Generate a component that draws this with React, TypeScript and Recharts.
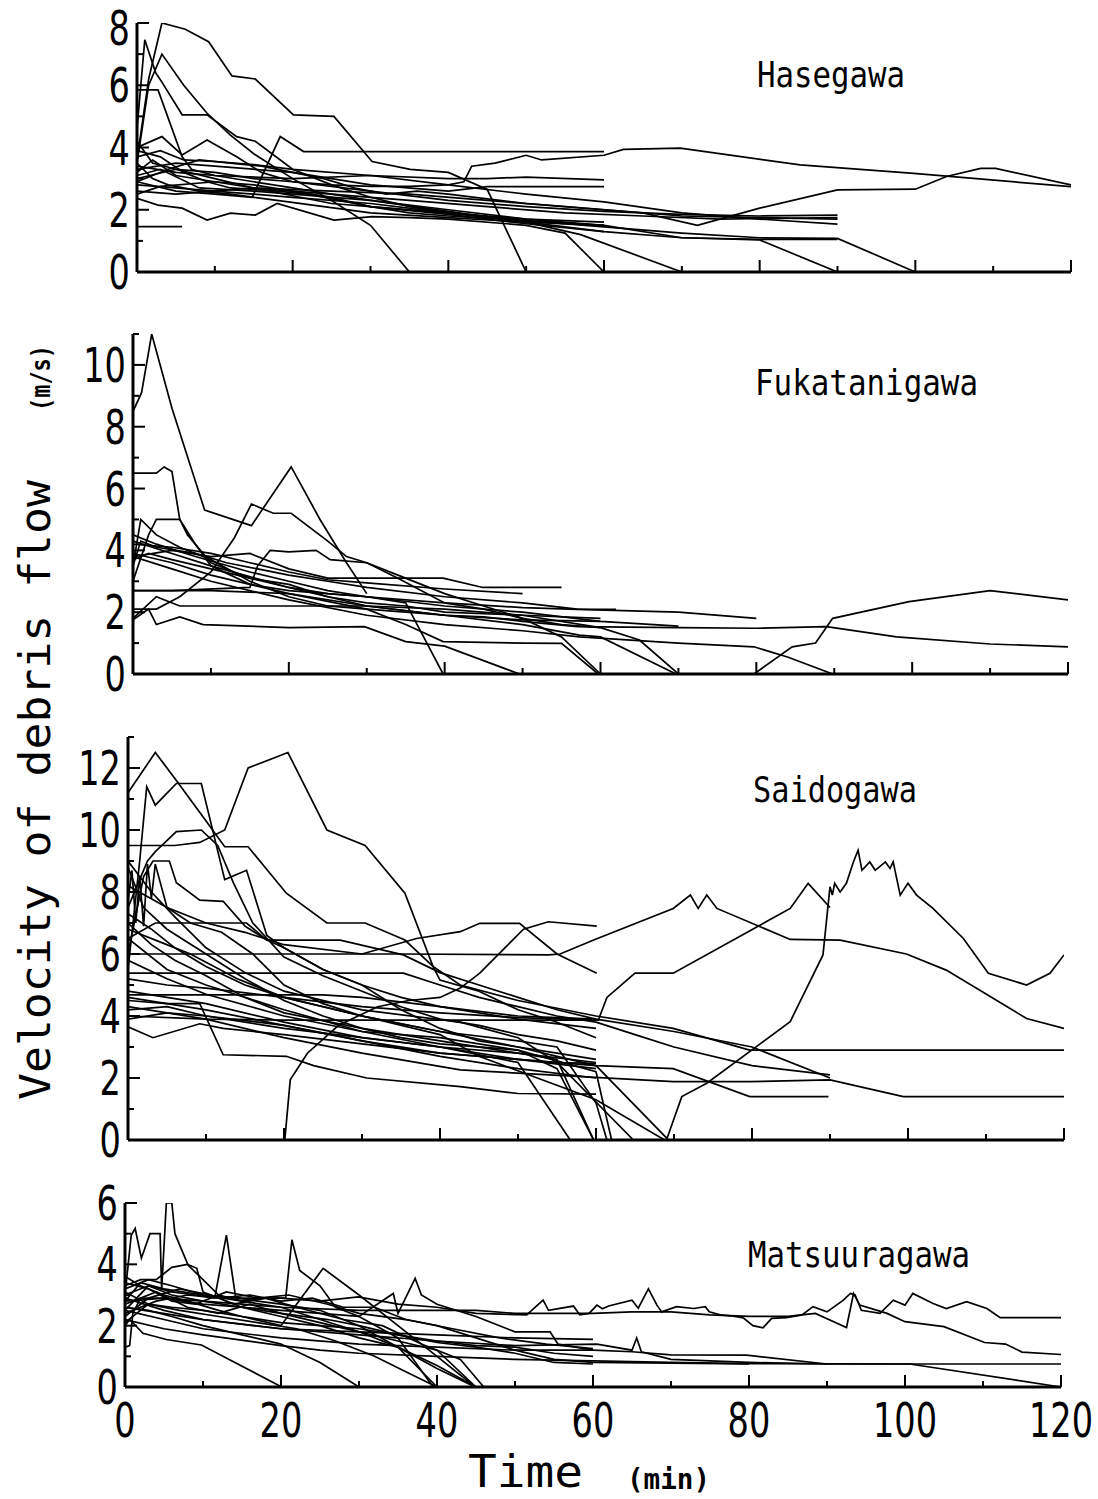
import { LineChart, Line, XAxis, YAxis } from 'recharts';

// each series: list of [time (min), velocity (m/s)] pairs
const hasegawa: number[][][] = [
  [[0,3.6],[1.5,6.2],[3.2,8],[6.2,7.8],[9.2,7.4],[12.2,6.3],[15.2,6.2],[20.1,5.05],[25.3,5],[30.2,3.55],[35.1,3.3],[40,3.2],[45,2.65],[50,0]],
  [[0,3],[5,3.3],[10,3.2],[15,3],[20,2.9],[25,2.8],[30,2.75],[35,2.75],[40,2.8],[42,2.9],[43,3.4],[46,3.5],[50,3.75],[52,3.6],[60,3.75],[62.5,3.94],[69.8,3.98],[85.2,3.44],[99.8,3.17],[120,2.74]],
  [[0,4.6],[1,7.46],[2.4,6.4],[3.2,6.1],[5.8,5.05],[9,5.05],[12.8,4.35],[15.2,4.2],[20,3.3],[25,2.8],[30,2.4],[35,2.1],[40,1.9],[50,1.65],[60,1.45],[70,1.25],[80,1.1],[90,1.08],[100,0]],
  [[0,3.5],[1.5,6],[3.2,7],[6,6],[9,5.1],[12,4.4],[15,3.8],[20,3],[25,2.3],[30,1.5],[35,0]],
  [[0,5.85],[2.7,5.85],[5.8,3.7],[7,3.3],[10,3.1],[15,2.9],[20,2.7],[25,2.5],[30,2.3],[40,1.95],[50,1.6],[57,1.2],[70,0]],
  [[0,4],[3.2,4.35],[5.8,3.76],[9,4.24],[12.8,3.7],[16,3.2],[20,2.9],[30,2.6],[40,2.3],[50,2.1],[60,1.95],[70,1.85],[80,1.8],[90,1.83]],
  [[0,1.46],[5.8,1.46]],
  [[0,2.37],[2.7,2.15],[5.8,2.05],[9,1.67],[12,1.89],[15.2,1.83],[18,2.2],[25.3,1.67],[30.2,1.78],[35,1.75],[40,1.7],[50,1.5],[55,1.25],[60,0]],
  [[0,2.9],[5,2.6],[10,2.5],[14.8,2.4],[18.4,4.35],[21.4,3.87],[40,3.87],[60,3.87]],
  [[0,3.3],[5,3.5],[10,3.4],[20,3.2],[30,2.8],[40,2.6],[45,2.74],[60,2.74]],
  [[0,3.4],[5,3.2],[10,3.1],[20,3],[30,3.1],[40,3],[45,3],[50,3.05],[60,2.96]],
  [[0,3.7],[3,3.9],[6,3.6],[10,3.55],[15,3.45],[20,3.3],[30,3.1],[40,2.8],[50,2.5],[60,2.25],[70,1.9],[80,1.7],[90,1.54]],
  [[0,2.8],[5,2.7],[10,2.6],[20,2.4],[30,2.2],[40,1.9],[50,1.6],[60,1.3],[70,1.1],[80,1.05],[90,1.05]],
  [[0,3.1],[3,3.3],[8,2.7],[15,2.6],[20,2.5],[30,2.3],[40,2],[50,1.7],[60,1.5],[70,1.1],[80,1.03],[90,0]],
  [[0,2.6],[5,2.5],[15,2.7],[25,2.6],[35,2.5],[45,2.3],[55,2.1],[65,1.9],[72,1.5],[80,2.05],[90,2.64],[100,2.66],[104,3.07],[108.4,3.33],[110.3,3.33],[120,2.8]],
  [[0,3.2],[2,3.6],[5,3.1],[10,2.9],[15,2.8],[20,2.6],[25,2.4],[30,2.1],[35,1.9],[40,1.8],[50,1.65],[60,1.5]],
  [[0,2.9],[4,3.3],[8,3.6],[12,3.5],[16,3.4],[20,3.2],[24,3],[28,2.7],[32,2.5],[36,2.6],[40,2.5],[50,2.2],[60,2],[70,1.8],[80,1.75],[90,1.7]],
  [[0,2.5],[3,2.75],[10,2.9],[15,2.7],[20,2.45],[25,2.2],[30,2.1],[40,1.85],[50,1.55],[60,1.3]],
  [[0,3.5],[2,3],[4,2.8],[8,2.6],[12,2.5],[18,2.3],[24,2.1],[30,1.9],[40,1.75],[50,1.6],[60,1.5]],
  [[0,4.2],[2,3.5],[5,3.3],[10,3],[15,2.7],[20,2.6],[25,2.5],[30,2.4],[35,2.3],[45,2.1],[55,1.9],[65,1.8],[75,1.7],[90,1.75]],
  [[0,3.9],[3,3.7],[6,3.2],[9,2.9],[12,2.7],[18,2.6],[22,2.5],[26,2.3],[30,2.1],[40,1.9],[50,1.7],[60,1.6]],
];

const fukatanigawa: number[][][] = [
  [[0,8.5],[1.1,9.1],[2.4,11],[5,8.6],[9.2,5.3],[15.2,4.8],[20.3,6.7],[24,5],[27.4,3.6],[30,2.6]],
  [[0,2.1],[3,2.1],[6,2.5],[10,3.3],[13,4.4],[15.2,5.5],[18,5.2],[20.3,5.2],[25,4.3],[27.4,3.8],[30,3.6],[34,3.2],[40,2.6],[45,2.2],[50,1.8],[55,1.2],[60,0]],
  [[0,6.5],[1,6.5],[3,6.5],[4,6.7],[5,6.55],[6,5],[8,4.2],[10,3.5],[15,2.9],[20,2.7],[30,2.5],[40,2.3],[50,2.15],[57,2.09],[70,2],[80,1.8]],
  [[0,3.5],[1,5],[3,4.5],[6,4.1],[10,3.7],[15,3],[20,2.5],[25,2.2],[30,2.1],[35,2],[40,1.9],[45,1.85],[50,1.7],[57,1.53],[70,1.5],[80,1.48],[89,1.53],[98,1.2],[110,0.97],[120,0.88]],
  [[79.7,0],[84.6,0.88],[87.6,1],[89.8,1.8],[99.6,2.34],[110,2.7],[120,2.4]],
  [[0,3.8],[5,3.4],[10,3],[20,2.4],[30,1.9],[40,1.6],[50,1.4],[57.3,1.2],[70,1],[79.7,0.88],[84,0.55],[89.8,0]],
  [[0,4.3],[5,3.9],[10,3.5],[20,2.8],[30,2.2],[40,1.9],[50,1.6],[57.3,1.26],[60,1.2],[69.7,0]],
  [[0,3.8],[5,4],[10,3.8],[15,3.9],[20,3.4],[25,3.1],[30,3.1],[39.8,3.1],[44.9,2.8],[55,2.8]],
  [[0,4.2],[5,4.1],[10,3.9],[15,3.6],[20,3.3],[25,3.05],[30,2.95],[40,2.75],[50,2.6]],
  [[0,2.7],[10,2.7],[20,2.6],[30,2.2],[40,1.9],[50,1.75],[60,1.7]],
  [[0,4.5],[3,4.2],[8,3.8],[15,3.3],[20,3],[25,2.7],[30,2.5],[35,2.3],[39.8,0]],
  [[0,1.75],[2,2.1],[3,1.6],[6,1.85],[9,1.6],[20,1.5],[29.7,1.53],[35,1.05],[40,0.9],[49.6,0]],
  [[0,3.9],[5,3.6],[10,3.2],[20,2.6],[30,2.1],[35,1.6],[39.8,1.05],[50,1],[55,0.99],[59.7,0]],
  [[0,2.7],[5,2.7],[15,2.8],[16,3.5],[17.6,4],[20,3.95],[23.5,4],[25.3,3.7],[30,3.6],[34,3.1],[40,2.3],[45,2.1],[50,1.8],[55,1.6],[60,1.5]],
  [[0,3.5],[1,4.3],[3,4.1],[8,3.9],[12,3.6],[16,3.4],[20,3.2],[25,3],[30,2.8],[40,2.5],[50,2.3],[57,2.1],[62,2.09]],
  [[0,3],[2,4.5],[3,5],[6,5],[7,4.5],[10,3.6],[15,3.1],[20,2.8],[25,2.6],[30,2.5],[40,2.2],[50,2],[60,1.7],[70,1.55]],
  [[0,1.8],[3,2.5],[6,2.2],[10,2.2],[20,2.2],[30,2.2],[40,2.1],[50,1.9],[60,1.5],[65,1.1],[70,0]],
  [[0,3.7],[2,3.9],[5,3.7],[10,3.4],[15,3.1],[20,2.9],[25,2.5],[30,2.3],[35,2.2],[40,2],[50,1.9],[60,1.8]],
];

const saidogawa: number[][][] = [
  [[0,9.5],[3,9.5],[6,9.5],[9.2,9.6],[12.4,10],[15.4,12],[20.5,12.5],[25.5,10],[30.4,9.5],[35.5,7.96],[39.1,5.6],[40,5.16],[45,4.8],[50,4.2],[55,3.8],[60,3.3]],
  [[0,11.2],[3.5,12.5],[6.2,11.6],[9.4,10.5],[12.4,9.46],[15.4,9.46],[20.3,7.96],[25.5,7],[30.4,7],[35.5,6.45],[39.1,5.6],[42.6,5],[50,4.5],[60,4],[69.9,3.6],[79.7,2.9],[120,2.9]],
  [[0,5.5],[1.5,9],[2.4,11.4],[3.5,10.8],[6.2,11.5],[9.4,11.5],[12.4,8.4],[15.2,8.7],[17.8,6.6],[20,6.2],[25,5.5],[30,5],[35,4.2],[40,3.6],[45,3.2],[50,3],[55,2.8],[60,2.6]],
  [[0,7.5],[2.5,9],[3.5,9.3],[6.2,9.95],[9.4,10],[11.5,9.5],[13.5,8.3],[16,7],[20,5.9],[25,5.3],[30,4.8],[35,4.3],[40,3.9],[45,3.7],[50,3.4],[55,3.2],[60,2.9]],
  [[0,6],[2,8.5],[3.2,9],[5.3,9],[6.2,8.3],[9.2,7.74],[12.2,7.7],[15,6.9],[17.8,6.45],[20,6.2],[25,5.5],[30,5],[35,4.6],[40,4.3],[50,3.9],[60,3.6]],
  [[0,7.7],[0.5,8.7],[1,7],[1.5,8.5],[2,6.9],[2.5,8.9],[3,7.8],[3.5,8.9],[5,7.5],[8,7],[12,6.7],[16,6],[20,5],[25,4.4],[30,4],[40,3.5],[50,3.2],[55,3],[60,1.2],[61.4,0]],
  [[0,6],[35,6],[53.9,5.97],[55.4,6],[59.7,6.45],[69.9,7.47],[72.1,7.9],[73.1,7.47],[74.2,7.9],[75.5,7.47],[84.9,6.47],[91.3,6.45],[99.8,6],[104.9,5.48],[115.2,3.92],[120,3.6]],
  [[0,5.38],[35.3,5.38],[40,5],[45,4.6],[50,4.3],[55,4],[60,3.8],[65,3.4],[70,3],[80,2.4],[90,2.1]],
  [[0,6.5],[3.5,7],[15.2,7],[17.8,6.45],[27.2,6.45],[35.3,5.97],[40,5.4],[45,5],[50,4.6],[55,4.2],[60,3.9]],
  [[0,4.68],[25,4.68],[30,4.6],[40,4.3],[50,4],[60,3.9],[70,3.5],[80,3],[90,2]],
  [[0,4],[10,3.9],[20,3.87],[60,3.87]],
  [[0,3.65],[3.2,3.3],[9.2,3.75],[12.2,3.6],[20,3.4],[30,3.1],[40,2.8],[50,2.6],[55,2.5],[60,2.47]],
  [[0,4.5],[5,4.4],[9.2,4.4],[12.2,2.75],[20.3,2.7],[23.8,2.4],[30.6,2],[42.6,1.72],[50,1.5],[60,1.48]],
  [[0,4.3],[10,3.9],[20,3.3],[30,2.8],[42.6,2.26],[69.9,1.88],[79.7,1.88],[90,1.94],[99.4,1.4],[120,1.4]],
  [[0,4.6],[10,4.2],[20,3.7],[30,3.2],[40,2.8],[50,2.6],[60,2.4],[69.9,2.3],[79.7,1.4],[89.8,1.4]],
  [[0,7.3],[3,6.8],[6,6.2],[10,5.6],[15,5],[20,4.6],[30,4],[40,3.5],[50,3],[55,2.7],[60,2.4],[69.1,0.05],[71,1.4],[74.2,1.83],[84.9,3.82],[89.1,5.97],[90,8.17],[90.3,7.9],[90.6,8.28],[91.3,8],[92.1,8.28],[93,8.97],[93.6,9.35],[94.1,8.7],[95.1,8.97],[95.8,8.7],[97.1,8.97],[97.7,8.76],[98.1,8.97],[99,7.9],[100,8.28],[101.1,7.9],[103.2,7.47],[107.1,6.5],[110.3,5.38],[115.2,5],[118.2,5.38],[120,5.97]],
  [[0,5.2],[5,5],[10,4.9],[20,4.6],[30,4.3],[40,4.1],[50,3.95],[60.3,3.87],[61.4,4.6],[65,5.38],[69.9,5.38],[84.9,7.47],[87.2,8.28],[90,7.5]],
  [[20.1,0],[20.8,1.94],[23,2.8],[27,3.7],[32,4.3],[36,4.5],[40,4.6],[42.6,4.9],[45.1,5.38],[50.7,6.8],[53.9,7.04],[60.1,6.9]],
  [[0,8.2],[5,7.5],[10,7],[15,6.7],[20,6.3],[30,6],[37,6.5],[42.6,6.72],[45.1,6.99],[50.2,6.99],[55,6],[60.1,5.38]],
  [[0,6.5],[5,5.5],[10,5],[20,4.2],[30,3.5],[40,3],[50,2.5],[56.7,0]],
  [[0,5.8],[5,5.2],[10,4.7],[20,4],[30,3.5],[40,3.3],[50,2.9],[55,2.3],[59.7,0]],
  [[0,4.2],[5,4.3],[10,4],[20,3.6],[30,3.3],[40,3],[50,2.8],[55,2.6],[59.7,0]],
  [[0,9],[3,8],[6,7.2],[10,6.2],[15,5.4],[20,4.8],[30,4.2],[42.6,3.8],[50,3.3],[55,2.5],[64.8,0]],
  [[0,6.8],[4,6.4],[8,6],[14,5.2],[20,4.6],[30,4],[40,3.4],[45,2.7],[60,1.3],[68.8,0]],
  [[0,4.8],[5,4.6],[10,4.4],[20,3.8],[30,3.3],[40,3],[50,2.6],[60,2.3]],
  [[0,3.9],[5,4.1],[10,4],[20,3.7],[30,3.2],[40,2.7],[50,2.3],[60,2]],
  [[0,7],[3,6.3],[6,5.8],[10,5.3],[15,4.6],[20,4.1],[30,3.6],[40,3.2],[50,2.8],[60,2.5]],
  [[0,8.8],[2,7.5],[5,6.8],[10,6],[15,5.2],[20,4.5],[25,4],[30,3.6],[35,3.3],[40,3.1],[50,2.9],[60,2.2],[62,0]],
];

const matsuuragawa: number[][][] = [
  [[0,2.8],[2,3.4],[5,3.2],[10,3],[15,2.9],[20,2.9],[25,2.8],[29.9,2.94],[35,2.7],[40,2.6],[45,2.4],[51.5,2.35],[53.6,2.83],[54.3,2.5],[57.5,2.64],[58.3,2.35],[59.5,2.4],[60.5,2.67],[61.2,2.55],[62,2.64],[65,2.83],[65.8,2.57],[67.1,3.2],[68.2,2.67],[68.8,2.45],[70.7,2.62],[72.9,2.56],[74.4,2.62],[74.9,2.45],[76.3,2.35],[78,2.31],[79.3,2.25],[80.5,2],[81.8,1.93],[82.9,2.24],[84.8,2.26],[86.8,2.35],[88.2,2.62],[90,2.45],[92.1,2.83],[93,3.05],[93.6,3],[94.4,2.5],[96.8,2.4],[98.5,2.83],[100,2.67],[101,3.05],[103.6,2.72],[105.3,2.56],[107.9,2.78],[110.5,2.56],[112.2,2.26],[120,2.26]],
  [[0,3],[3,3.3],[6,3],[10,2.8],[15,2.7],[20,2.6],[30,2.5],[40,2.5],[45,2.5],[50,2.4],[55,2.4],[60,2.4],[65,2.45],[70,2.45],[75,2.35],[80,2.3],[85,2.3],[88.5,2.4],[92.5,1.94],[93.4,3.05],[94.2,2.67],[97.7,2.4],[100,2.13],[105,1.97],[110.2,1.45],[112.9,1.4],[115,1.14],[120,1.06]],
  [[0,2.2],[5,1.9],[10,1.7],[20,1.35],[25,1.2],[30,1.1],[40,1],[50,0.9],[60,0.85],[70,0.8],[80,0.76],[100,0.75],[120,0.75]],
  [[0,2.5],[5,2.2],[10,1.9],[20,1.6],[30,1.4],[40,1.3],[50,1.2],[60,1.2],[65,1.15],[70,1.05],[79.7,1.04],[90,0.75],[100.6,0.75],[120,0]],
  [[0,2.6],[10,2.2],[20,1.9],[30,1.8],[40,1.7],[50,1.6],[60,1.55]],
  [[0,2.9],[5,2.5],[10,2.2],[20,1.9],[30,1.7],[40,1.5],[50,1.35],[60.5,1.4],[65,1.2],[65.6,1.6],[66.2,1.15],[70,0.9],[80,0.8],[90,0.75]],
  [[0,3],[0.8,4.95],[1.3,5.17],[2.1,4.2],[3.2,5],[4.5,5],[4.7,3.16],[5.3,6],[6,6],[6.4,5],[8.1,3.97],[10,3.5],[12,3],[15,2.8],[20,2.6],[25,2.2],[30,1.8],[35,1.5],[40,1.2],[45,0]],
  [[0,2.5],[3,3.3],[6,3.1],[9,3],[11.5,2.9],[13,4.95],[14.2,2.9],[17,2.8],[20,2.7],[25,2.5],[30,2],[35,1.3],[40,0]],
  [[0,3.2],[3,3.5],[6,3.3],[10,3],[15,2.8],[18,2.9],[20.6,2.9],[21.4,4.8],[22.4,3.8],[25,3.3],[27,2.6],[30,2.3],[35,1.6],[39.5,0]],
  [[0,2.1],[3,2.7],[6,2.6],[10,2.5],[15,2.3],[20,2],[22,2.7],[25.4,3.87],[30,3],[35,2],[40,1],[44.9,0]],
  [[0,3.3],[2,3.5],[4,3.5],[6,3.9],[8,4],[9.2,3.87],[10,3.1],[12,2.9],[15,2.6],[20,2.4],[25,2.1],[30,1.8],[35,1.3],[40,0.6],[44.9,0]],
  [[0,2.8],[5,2.9],[10,2.7],[15,2.6],[20,2.5],[25,2.4],[30,2.3],[34.4,3.05],[35,2.4],[37.2,3.54],[38,3],[40,2.7],[45,2.3],[50,1.8],[54.5,1.8],[55.5,1.4],[60,1.2]],
  [[0,2],[0.6,2.2],[2.3,1.75],[5.3,1.55],[9.8,1.37],[20.1,0]],
  [[0,2.6],[3,2.5],[6,2.3],[10,2],[15,1.7],[20,1.4],[25,0.8],[30,0]],
  [[0,1.3],[0.6,1.35],[1,2.4],[2,2.9],[5,2.9],[10,2.8],[15,2.6],[20,2.3],[25,2],[30,1.6],[35,1.3],[40,0.7],[45,0]],
  [[0,3.6],[2,3.3],[5,3],[8,2.8],[12,2.5],[15,2.3],[20,2.1],[25,2],[30,1.9],[35,1.7],[40,1.5],[45,1.35],[50,1.3],[55,1.1],[60,1]],
  [[0,2.4],[4,2.8],[8,3],[12,2.9],[16,3],[20,2.8],[24,2.9],[28,2.6],[32,2.6],[36,2.2],[40,2],[45,1.6],[50,1.2],[55,0.9],[60,0.8],[70,0.78],[80,0.75]],
  [[0,3.1],[3,2.7],[7,2.5],[12,2.3],[17,2.1],[22,1.9],[27,1.5],[32,1],[36,0.5],[40,0]],
  [[0,2.7],[4,3.1],[8,2.6],[12,2.4],[16,2.7],[20,2.4],[26,2.2],[30,2],[35,1.7],[40,1.45],[45,1.3],[50,1.1],[55,0.8],[60,0.75]],
  [[0,3.4],[3,3.2],[6,2.8],[9,2.7],[13,3.1],[17,2.9],[21,3],[26,2.7],[30,2.4],[36,2.2],[42,1.9],[48,1.6],[54,1.4],[60,1.25]],
  [[0,2.3],[3,2.9],[7,3.2],[11,3],[14,2.7],[18,2.9],[22,2.6],[28,2.2],[33,2],[38,1.4],[43,0.9],[46,0]],
];

const panelNames = ['Hasegawa', 'Fukatanigawa', 'Saidogawa', 'Matsuuragawa'];
const panelSeries = [hasegawa, fukatanigawa, saidogawa, matsuuragawa];
const yMaxes = [8, 11, 13, 6];
const xTicks = [0, 10, 20, 30, 40, 50, 60, 70, 80, 90, 100, 110, 120];

// pixel boxes of each plot area: left, right, top (y max), bottom (y = 0)
const boxes = [
  { left: 137, right: 1071, top: 23, bottom: 272 },
  { left: 133, right: 1068, top: 334, bottom: 674 },
  { left: 128, right: 1064, top: 737, bottom: 1140 },
  { left: 125, right: 1061, top: 1203, bottom: 1387 },
];
const titlePos = [
  { x: 757, y: 87, w: 148 },
  { x: 755, y: 395, w: 223 },
  { x: 753, y: 802, w: 164 },
  { x: 748, y: 1267, w: 222 },
];

const digitFont = 'DejaVu Sans';
const monoFont = 'DejaVu Sans Mono';

function XTick(props: any) {
  const { x, y, payload, showLabel } = props;
  const v = payload.value;
  const major = v % 20 === 0;
  return (
    <g>
      <line x1={x} y1={y} x2={x} y2={y - (major ? 12 : 6)} stroke="#000" strokeWidth={2} />
      {showLabel && major && (
        <text transform={`translate(${x},${y + 50}) scale(0.7,1)`} textAnchor="middle"
          fontFamily={digitFont} fontSize={48} fill="#000">{v}</text>
      )}
    </g>
  );
}

function YTick(props: any) {
  const { x, y, payload, minBase } = props;
  const v = payload.value;
  const major = v % 2 === 0;
  // keep the label's text box inside the page
  const base = Math.max(y + 17, minBase);
  return (
    <g>
      <line x1={x} y1={y} x2={x + (major ? 12 : 6)} y2={y} stroke="#000" strokeWidth={2} />
      {major && (
        <text transform={`translate(${x - 7},${base}) scale(0.7,1)`} textAnchor="end"
          fontFamily={digitFont} fontSize={48} fill="#000">{v}</text>
      )}
    </g>
  );
}

function Panel({ idx }: { idx: number }) {
  const box = boxes[idx];
  const ymax = yMaxes[idx];
  const last = idx === 3;
  const mt = 30;
  const xh = last ? 75 : 40;
  const height = mt + (box.bottom - box.top) + xh;
  const yTicks = Array.from({ length: ymax + 1 }, (_, i) => i);
  const minBase = 45 - (box.top - mt);
  return (
    <div style={{ position: 'absolute', left: 0, top: box.top - mt }}>
      <LineChart width={1098} height={height} margin={{ top: mt, right: 1098 - box.right, bottom: 0, left: 0 }}>
        <XAxis type="number" dataKey="t" domain={[0, 120]} ticks={xTicks} interval={0}
          allowDataOverflow height={xh} tickSize={0} tickMargin={0} tickLine={false}
          axisLine={{ stroke: '#000', strokeWidth: 3 }}
          tick={(p: any) => <XTick {...p} showLabel={last} />} />
        <YAxis type="number" domain={[0, ymax]} ticks={yTicks} interval={0}
          allowDataOverflow width={box.left} tickSize={0} tickMargin={0} tickLine={false}
          axisLine={{ stroke: '#000', strokeWidth: 3 }}
          tick={(p: any) => <YTick {...p} minBase={minBase} />} />
        {panelSeries[idx].map((s, i) => (
          <Line key={i} data={s.map(([t, v]) => ({ t, v }))} dataKey="v" type="linear"
            stroke="#000" strokeWidth={1.7} dot={false} activeDot={false}
            isAnimationActive={false} />
        ))}
      </LineChart>
    </div>
  );
}

export default function App() {
  return (
    <div style={{ position: 'absolute', left: 0, top: 0, width: 1098, height: 1499, background: '#fff', overflow: 'hidden' }}>
      {panelNames.map((_, i) => <Panel key={i} idx={i} />)}
      <svg width={1098} height={1499} style={{ position: 'absolute', left: 0, top: 0, pointerEvents: 'none' }}>
        {panelNames.map((name, i) => (
          <text key={name} x={titlePos[i].x} y={titlePos[i].y} fontFamily={monoFont} fontSize={36}
            textLength={titlePos[i].w} lengthAdjust="spacingAndGlyphs" fill="#000">{name}</text>
        ))}
        <text transform="translate(50,790) rotate(-90)" textAnchor="middle" fontFamily={monoFont}
          fontSize={42} textLength={620} lengthAdjust="spacingAndGlyphs" fill="#000">Velocity of debris flow</text>
        <text transform="translate(50,378) rotate(-90)" textAnchor="middle" fontFamily={monoFont}
          fontSize={26} fontWeight="bold" textLength={66} lengthAdjust="spacingAndGlyphs" fill="#000">(m/s)</text>
        <text x={468} y={1487} fontFamily={monoFont} fontSize={44} textLength={115}
          lengthAdjust="spacingAndGlyphs" fill="#000">Time</text>
        <text x={627} y={1489} fontFamily={monoFont} fontSize={28} fontWeight="bold" textLength={83}
          lengthAdjust="spacingAndGlyphs" fill="#000">(min)</text>
      </svg>
    </div>
  );
}
